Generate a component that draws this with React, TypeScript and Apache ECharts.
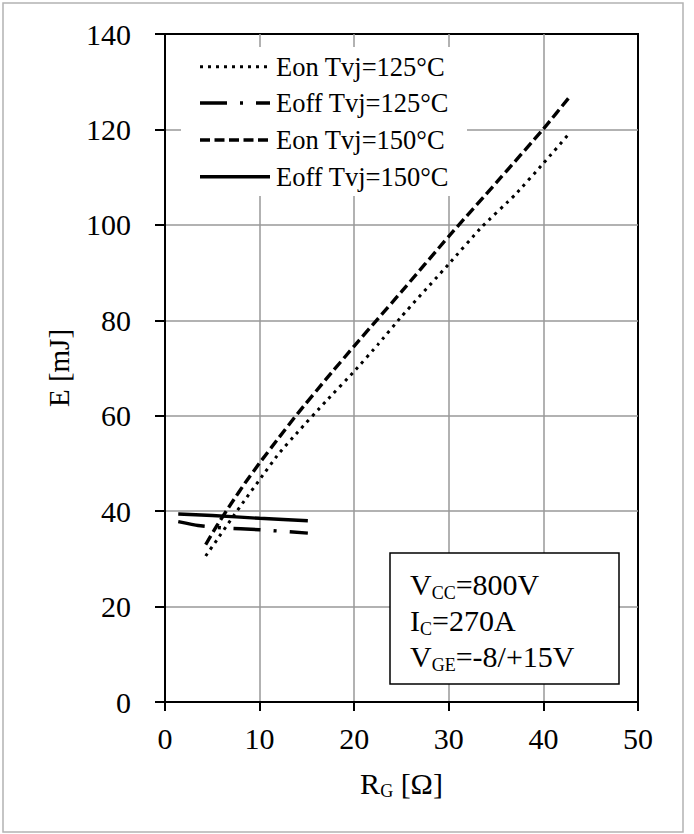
import React, { useEffect, useRef } from "react";
import * as echarts from "echarts";

const seriesNames = ["Eon Tvj=125°C", "Eoff Tvj=125°C", "Eon Tvj=150°C", "Eoff Tvj=150°C"];

const eon125X = [4.3, 5.5, 7, 8.5, 10, 12, 14, 17, 20, 22.5, 25, 30, 33.5, 37, 40, 42.8];
const eon125Y = [30.6, 34, 38.3, 42.5, 46.6, 52, 56.5, 63, 69.3, 74.9, 80.8, 91.8, 99.6, 106.3, 112.9, 119.3];

const eoff125X = [1.4, 3.5, 6, 10, 15.1];
const eoff125Y = [37.8, 37.0, 36.5, 36.1, 35.4];

const eon150X = [4.3, 5.5, 7, 8.5, 10, 12, 14, 17, 20, 22.5, 25, 30, 35, 40, 42.8];
const eon150Y = [33, 37, 41.6, 46, 50.1, 55.3, 60.4, 67.6, 74.6, 80.3, 86, 97.6, 108.8, 120.1, 126.9];

const eoff150X = [1.4, 5, 10, 15.1];
const eoff150Y = [39.4, 39.1, 38.5, 38.0];

const xTicks = [0, 10, 20, 30, 40, 50];
const yTicks = [0, 20, 40, 60, 80, 100, 120, 140];

const annotationText = "V{s|CC}=800V\nI{s|C}=270A\nV{s|GE}=-8/+15V";

const FONT = "Liberation Serif";

const pairs = (xs: number[], ys: number[]) => xs.map((x, i) => [x, ys[i]]);

export default function App() {
  const ref = useRef<HTMLDivElement>(null);
  useEffect(() => {
    if (!ref.current) return;
    const chart = echarts.init(ref.current, null, { renderer: "svg" });
    const dashes: any[] = [[3, 5], [27, 13, 3, 13], [10, 4.5], null];
    const widths = [3, 3.4, 3.4, 3.4];
    const styles: any[] = dashes.map((d, i) => ({ type: d ? d : "solid", width: widths[i], cap: "butt" }));
    const data = [
      pairs(eon125X, eon125Y),
      pairs(eoff125X, eoff125Y),
      pairs(eon150X, eon150Y),
      pairs(eoff150X, eoff150Y),
    ];
    const legendRowsY = [66.7, 103, 140, 176.7];
    const legendGraphics: any[] = [
      {
        type: "rect",
        shape: { x: 181, y: 47, width: 286, height: 149 },
        style: { fill: "#fff", stroke: "none" },
        z: 100,
        silent: true,
      },
    ];
    seriesNames.forEach((name, i) => {
      legendGraphics.push({
        type: "line",
        shape: { x1: 200, y1: legendRowsY[i], x2: 270, y2: legendRowsY[i] },
        style: { stroke: "#000", lineWidth: widths[i], lineDash: dashes[i] || undefined, lineCap: "butt" },
        z: 101,
        silent: true,
      });
      legendGraphics.push({
        type: "text",
        x: 276,
        y: legendRowsY[i],
        z: 101,
        silent: true,
        style: {
          text: name,
          fontFamily: FONT,
          fontSize: 26.5,
          fill: "#000",
          verticalAlign: "middle",
          align: "left",
        },
      });
    });
    chart.setOption({
      animation: false,
      backgroundColor: "#fff",
      grid: {
        left: 165,
        top: 34,
        width: 473,
        height: 668,
        show: true,
        borderColor: "#000",
        borderWidth: 2,
        backgroundColor: "transparent",
      },
      xAxis: {
        type: "value",
        min: 0,
        max: 50,
        interval: 10,
        axisLine: { show: true, onZero: false, lineStyle: { color: "#000", width: 2 } },
        axisTick: { show: true, length: 9, lineStyle: { color: "#000", width: 2 } },
        axisLabel: {
          fontFamily: FONT,
          fontSize: 30,
          color: "#000",
          margin: 21,
          formatter: (v: number) => (xTicks.includes(v) ? String(v) : ""),
        },
        splitLine: { show: true, showMinLine: false, showMaxLine: false, lineStyle: { color: "#999", width: 1.5 } },
        name: "R{s|G} [Ω]",
        nameLocation: "middle",
        nameGap: 64,
        nameTextStyle: {
          fontFamily: FONT,
          fontSize: 30,
          color: "#000",
          lineHeight: 34,
          rich: {
            s: { fontFamily: FONT, fontSize: 18, color: "#000", lineHeight: 12, verticalAlign: "bottom" },
          },
        },
      },
      yAxis: {
        type: "value",
        min: 0,
        max: 140,
        interval: 20,
        axisLine: { show: true, onZero: false, lineStyle: { color: "#000", width: 2 } },
        axisTick: { show: true, length: 10, lineStyle: { color: "#000", width: 2 } },
        axisLabel: {
          fontFamily: FONT,
          fontSize: 30,
          color: "#000",
          margin: 34,
          formatter: (v: number) => (yTicks.includes(v) ? String(v) : ""),
        },
        splitLine: { show: true, showMinLine: false, showMaxLine: false, lineStyle: { color: "#999", width: 1.5 } },
        name: "E [mJ]",
        nameLocation: "middle",
        nameGap: 92,
        nameRotate: 90,
        nameTextStyle: { fontFamily: FONT, fontSize: 29, color: "#000" },
      },
      series: seriesNames.map((name, i) => ({
        name,
        type: "line",
        data: data[i],
        showSymbol: false,
        symbol: "none",
        smooth: 0.15,
        lineStyle: { color: "#000", ...styles[i] },
        itemStyle: { color: "#000" },
        z: 10,
      })),
      graphic: [
        {
          type: "rect",
          shape: { x: 3, y: 3, width: 680, height: 829 },
          style: { fill: "none", stroke: "#b3b3b3", lineWidth: 1.5 },
          z: 100,
          silent: true,
        },
        ...legendGraphics,
        {
          type: "rect",
          shape: { x: 390, y: 553, width: 229, height: 131 },
          style: { fill: "#fff", stroke: "#000", lineWidth: 1.5 },
          z: 100,
          silent: true,
        },
        {
          type: "text",
          x: 410,
          y: 566,
          z: 101,
          silent: true,
          style: {
            text: annotationText,
            fontFamily: FONT,
            fontSize: 30,
            lineHeight: 36,
            fill: "#000",
            verticalAlign: "top",
            align: "left",
            rich: {
              s: { fontFamily: FONT, fontSize: 18, lineHeight: 16, fill: "#000", verticalAlign: "bottom" },
            },
          },
        },
      ],
    });
    return () => chart.dispose();
  }, []);
  return (
    <div
      ref={ref}
      style={{ position: "fixed", left: 0, top: 0, width: 694, height: 834, background: "#fff" }}
    />
  );
}
